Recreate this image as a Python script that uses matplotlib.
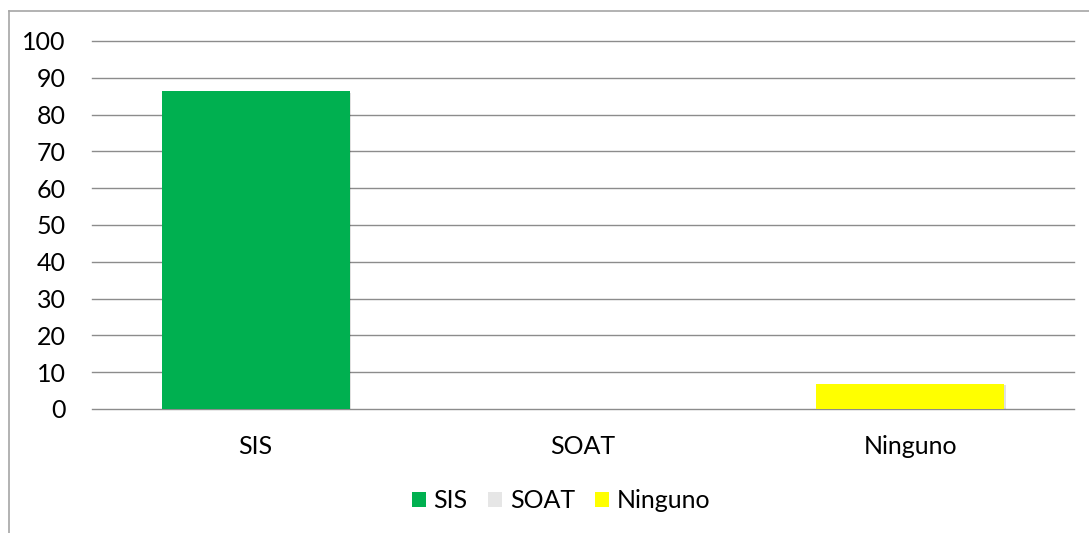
import matplotlib
matplotlib.use("Agg")
import matplotlib.pyplot as plt
from matplotlib.patches import Rectangle
from matplotlib.lines import Line2D
import matplotlib.patheffects as pe

categories = ["SIS", "SOAT", "Ninguno"]
values = [86.4, 0, 6.9]
colors = ["#00B050", "#E6E6E6", "#FFFF00"]
yticks = [0, 10, 20, 30, 40, 50, 60, 70, 80, 90, 100]

plt.rcParams['font.family'] = ['Lato', 'DejaVu Sans']

fig = plt.figure(figsize=(10.89, 5.33), dpi=100)
ax = fig.add_axes([92/1089, (533-409)/533, (1074-92)/1089, (409-41)/533])

x = list(range(len(categories)))
bars = ax.bar(x, values, width=0.575, color=colors, zorder=3)
for b in bars:
    b.set_path_effects([pe.SimplePatchShadow(offset=(1.2, -1.2), shadow_rgbFace='#000000', alpha=0.12), pe.Normal()])

ax.set_xlim(-0.5, 2.5)
ax.set_ylim(0, 100)
ax.set_yticks(yticks)
ax.set_yticklabels([str(v) for v in yticks])
ax.set_xticks(x)
ax.set_xticklabels(categories)
ax.tick_params(axis='both', length=0, labelsize=18, colors='#000000')
ax.tick_params(axis='y', pad=19)
ax.tick_params(axis='x', pad=19)
ax.grid(axis='y', color='#8C8C8C', linewidth=1.0, zorder=0)
for gl in ax.get_ygridlines():
    gl.set_clip_on(False)
ax.set_axisbelow(True)
for s in ax.spines.values():
    s.set_visible(False)

handles = [Rectangle((0, 0), 1, 1, facecolor=c, edgecolor='none') for c in colors]
fig.legend(handles, categories, loc='center', bbox_to_anchor=(561/1089, (533-501)/533),
           ncol=3, frameon=False, fontsize=18, handlelength=0.58, handleheight=0.58,
           handletextpad=0.3, columnspacing=0.8, borderpad=0)

fig.add_artist(Line2D([9/1089, 1.0], [(533-11)/533, (533-11)/533], color='#A6A6A6', linewidth=1.2, transform=fig.transFigure))
fig.add_artist(Line2D([9/1089, 9/1089], [0, (533-11)/533], color='#A6A6A6', linewidth=1.2, transform=fig.transFigure))

fig.savefig("out.png", dpi=100)
